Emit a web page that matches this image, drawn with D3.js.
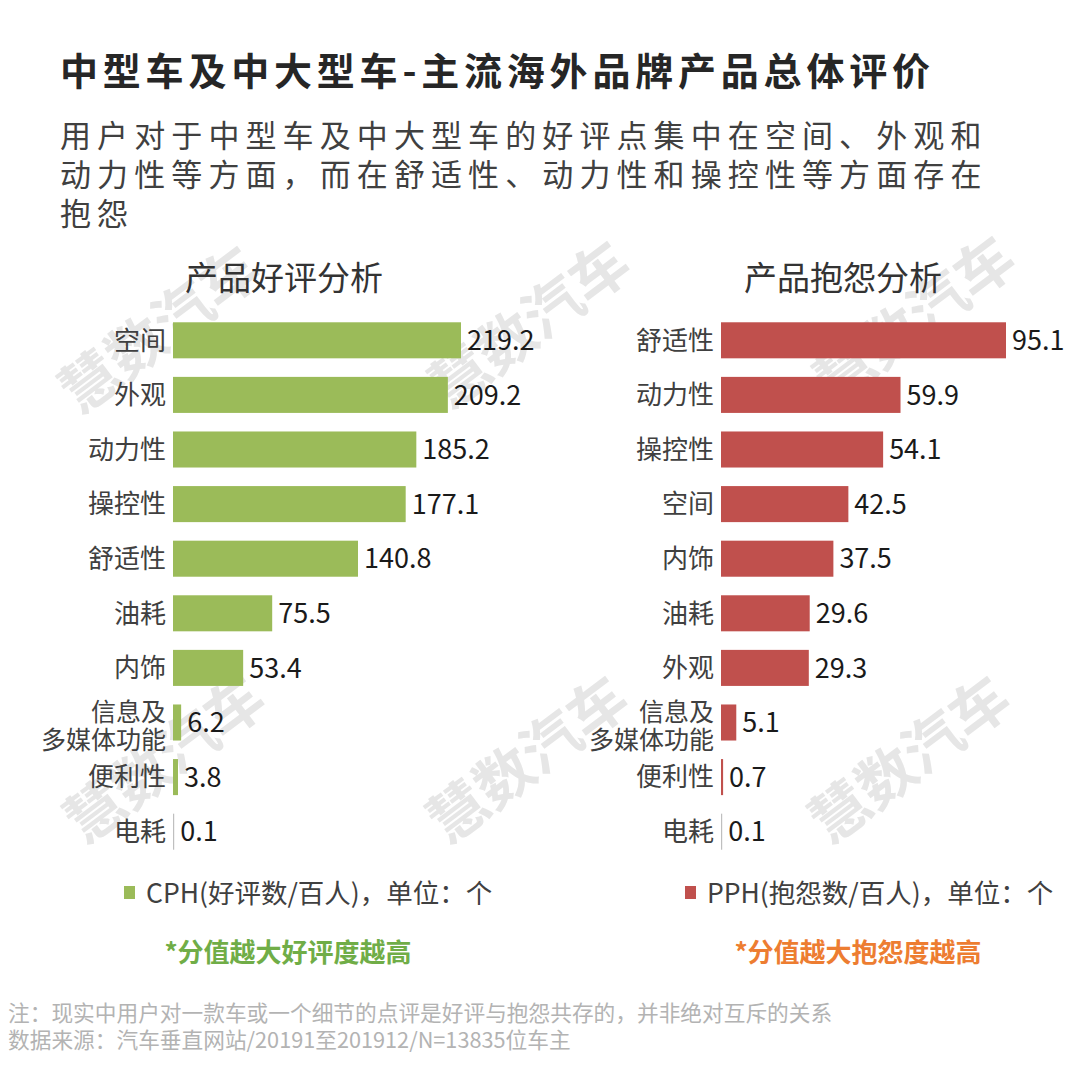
<!DOCTYPE html>
<html lang="zh">
<head>
<meta charset="UTF-8">
<title>中型车及中大型车-主流海外品牌产品总体评价</title>
<script src="https://d3js.org/d3.v7.min.js"></script>
<style>
  html, body { margin: 0; padding: 0; background: #fff; }
  svg { display: block; font-family: "Noto Sans CJK SC", "Noto Sans", sans-serif; }
</style>
</head>
<body>
<svg id="chart" width="1080" height="1080"></svg>
<script>
// 好评 (CPH)
var goodCats = ["空间", "外观", "动力性", "操控性", "舒适性", "油耗", "内饰", "信息及\n多媒体功能", "便利性", "电耗"];
var goodVals = [219.2, 209.2, 185.2, 177.1, 140.8, 75.5, 53.4, 6.2, 3.8, 0.1];
// 抱怨 (PPH)
var badCats = ["舒适性", "动力性", "操控性", "空间", "内饰", "油耗", "外观", "信息及\n多媒体功能", "便利性", "电耗"];
var badVals = [95.1, 59.9, 54.1, 42.5, 37.5, 29.6, 29.3, 5.1, 0.7, 0.1];

var titleText = "中型车及中大型车-主流海外品牌产品总体评价";
var subLines = ["用户对于中型车及中大型车的好评点集中在空间、外观和",
                "动力性等方面，而在舒适性、动力性和操控性等方面存在",
                "抱怨"];
var footLines = ["注：现实中用户对一款车或一个细节的点评是好评与抱怨共存的，并非绝对互斥的关系",
                 "数据来源：汽车垂直网站/20191至201912/N=13835位车主"];

var svg = d3.select("#chart");

// watermark "慧数汽车"
var marks = [[160, 330], [530, 325], [915, 320], [165, 760], [528, 760], [910, 760]];
svg.append("g").selectAll("text")
  .data(marks).enter().append("text")
  .attr("transform", d => "translate(" + d[0] + "," + d[1] + ") rotate(-37)")
  .attr("text-anchor", "middle")
  .attr("dy", "0.35em")
  .attr("font-size", 58)
  .attr("font-weight", 700)
  .attr("fill", "#e6e6e6")
  .text("慧数汽车");

// title + subtitle
svg.append("text")
  .attr("x", 60).attr("y", 85)
  .attr("font-size", 38).attr("font-weight", 700)
  .attr("fill", "#262626")
  .attr("textLength", 870).attr("lengthAdjust", "spacing")
  .text(titleText);

svg.append("g").selectAll("text")
  .data(subLines).enter().append("text")
  .attr("x", 60)
  .attr("y", (d, i) => 147 + i * 39)
  .attr("font-size", 31)
  .attr("letter-spacing", 6.1)
  .attr("fill", "#404040")
  .text(d => d);

// one horizontal bar panel
function panel(cats, vals, opt) {
  var g = svg.append("g");
  var x = d3.scaleLinear().domain([0, d3.max(vals)]).range([opt.x0, opt.x1]);
  var y = d3.scaleBand().domain(cats).range([313, 859]).paddingInner(0.34).paddingOuter(0.17);
  var rows = cats.map((c, i) => ({cat: c, val: vals[i]}));

  g.append("text")
    .attr("x", opt.cx).attr("y", 290)
    .attr("text-anchor", "middle")
    .attr("font-size", 33).attr("fill", "#333")
    .text(opt.title);

  g.selectAll("rect").data(rows).enter().append("rect")
    .attr("x", x(0))
    .attr("y", d => y(d.cat))
    .attr("height", y.bandwidth())
    .attr("width", d => Math.max(x(d.val) - x(0), 1.2))
    .attr("fill", d => d.val < 0.5 ? "#bfbfbf" : opt.color);

  g.selectAll(".val").data(rows).enter().append("text")
    .attr("class", "val")
    .attr("x", d => x(0) + Math.max(x(d.val) - x(0), 1.2) + 6)
    .attr("y", d => y(d.cat) + y.bandwidth() / 2)
    .attr("dy", "0.36em")
    .attr("font-size", 27).attr("fill", "#1a1a1a")
    .text(d => d3.format(".1f")(d.val));

  // category labels, two-line ones get one text per line
  rows.forEach(d => {
    var parts = d.cat.split("\n");
    var two = parts.length > 1;
    var cy = y(d.cat) + y.bandwidth() / 2 + (two ? 3 : 0);
    parts.forEach((p, k) => {
      g.append("text")
        .attr("text-anchor", "end")
        .attr("font-size", two ? 25 : 26).attr("fill", "#404040")
        .attr("x", opt.x0 - 7)
        .attr("y", cy + (k - (parts.length - 1) / 2) * 28)
        .attr("dy", "0.36em")
        .text(p);
    });
  });

  // legend
  g.append("rect").attr("x", opt.lx).attr("y", 886).attr("width", 11).attr("height", 13).attr("fill", opt.color);
  g.append("text").attr("x", opt.lx + 22).attr("y", 903)
    .attr("font-size", 26.5).attr("fill", "#404040")
    .text(opt.legend);

  g.append("text").attr("x", opt.nx).attr("y", 962)
    .attr("text-anchor", "middle")
    .attr("font-size", 26).attr("font-weight", 700)
    .attr("fill", opt.noteColor)
    .text(opt.note);
}

panel(goodCats, goodVals, {
  x0: 173, x1: 461, cx: 284, title: "产品好评分析", color: "#9BBB59",
  lx: 124, legend: "CPH(好评数/百人)，单位：个",
  nx: 288, note: "*分值越大好评度越高", noteColor: "#70AD47"
});
panel(badCats, badVals, {
  x0: 721, x1: 1006, cx: 843, title: "产品抱怨分析", color: "#C0504D",
  lx: 685, legend: "PPH(抱怨数/百人)，单位：个",
  nx: 858, note: "*分值越大抱怨度越高", noteColor: "#ED7D31"
});

// footnote
svg.append("g").selectAll("text")
  .data(footLines).enter().append("text")
  .attr("x", 8)
  .attr("y", (d, i) => 1021 + i * 27)
  .attr("font-size", 21.7)
  .attr("fill", "#b3b3b3")
  .text(d => d);
</script>
</body>
</html>
